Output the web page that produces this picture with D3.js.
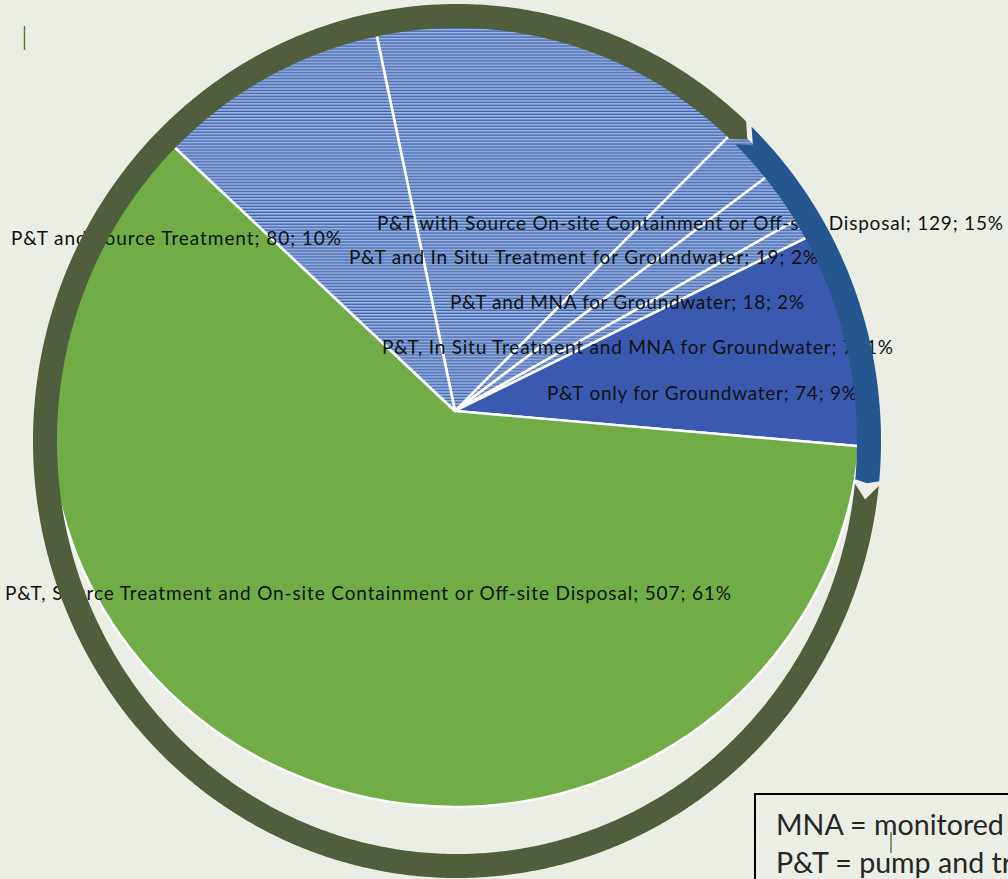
<!DOCTYPE html>
<html>
<head>
<meta charset="utf-8">
<script src="https://cdn.jsdelivr.net/npm/d3@7"></script>
<style>
  html, body { margin: 0; padding: 0; background: #ebeee5; }
  svg { display: block; }
</style>
</head>
<body>
<svg id="chart" width="1008" height="879"></svg>
<script>
// Remedy combinations at P&T sites (count of sites)
const categories = [
  "P&T with Source On-site Containment or Off-site Disposal",
  "P&T and In Situ Treatment for Groundwater",
  "P&T and MNA for Groundwater",
  "P&T, In Situ Treatment and MNA for Groundwater",
  "P&T only for Groundwater",
  "P&T, Source Treatment and On-site Containment or Off-site Disposal",
  "P&T and Source Treatment"
];
const values = [129, 19, 18, 7, 74, 507, 80];

// Slice fills, in category order
const sliceFills = ["url(#hatch)", "url(#hatch)", "url(#hatch)", "url(#hatch)", "#3a5ab0", "#70ad47", "url(#hatch)"];

// Label layout: left x, middle y, rendered width
const labelLayout = [
  [377, 223, 626],
  [349, 257, 469],
  [450, 302, 354],
  [382, 347, 511],
  [547, 393, 310],
  [5, 593, 726],
  [11, 238, 330]
];

const legendLines = ["MNA = monitored natural attenuation", "P&T = pump and treat"];

const svg = d3.select("#chart");
const defs = svg.append("defs");

// Horizontal-line pattern fill
const pat = defs.append("pattern")
  .attr("id", "hatch")
  .attr("patternUnits", "userSpaceOnUse")
  .attr("width", 8).attr("height", 3);
pat.append("rect").attr("width", 8).attr("height", 3).attr("fill", "#9fb5de");
pat.append("rect").attr("y", 0).attr("width", 8).attr("height", 1).attr("fill", "#3f68b3");
pat.append("rect").attr("y", 2).attr("width", 8).attr("height", 1).attr("fill", "#7896cd");

svg.append("rect").attr("width", 1008).attr("height", 879).attr("fill", "#ebeee5");

// Pie
const deg = Math.PI / 180;
const startA = -11.5 * deg;
const pie = d3.pie().sort(null).value(d => d).startAngle(startA).endAngle(startA + 2 * Math.PI);
const arcs = pie(values);
const arc = d3.arc().innerRadius(0).outerRadius(400);

const pieG = svg.append("g").attr("transform", "translate(455,411) scale(1.015,0.99)");
pieG.selectAll("path.slice")
  .data(arcs)
  .join("path")
  .attr("class", "slice")
  .attr("d", arc)
  .attr("fill", (d, i) => sliceFills[i])
  .attr("stroke", "#ffffff")
  .attr("stroke-width", 2.5)
  .attr("stroke-linejoin", "round");

// Data labels: "category; value; percent"
const total = d3.sum(values);
const labelText = (i) => `${categories[i]}; ${values[i]}; ${Math.round(values[i] / total * 100)}%`;

svg.append("g").selectAll("text")
  .data(values.map((v, i) => i))
  .join("text")
  .attr("x", i => labelLayout[i][0])
  .attr("y", i => labelLayout[i][1])
  .attr("dy", "0.36em")
  .attr("textLength", i => labelLayout[i][2])
  .attr("lengthAdjust", "spacing")
  .attr("font-family", "Lato, 'Open Sans', sans-serif")
  .attr("font-size", 19)
  .attr("fill", "#111111")
  .text(i => labelText(i));

// Circular arrow band around the pie
const ring = { cx: 457, cy: 441, rxO: 424, ryO: 437, rxI: 400, ryI: 413 };
function ellPt(a, t) {
  const rx = ring.rxI + (ring.rxO - ring.rxI) * t;
  const ry = ring.ryI + (ring.ryO - ring.ryI) * t;
  return [ring.cx + rx * Math.sin(a * deg), ring.cy - ry * Math.cos(a * deg)];
}
function bandPath(a0, a1, tailDepth, headDepth) {
  const pts = [];
  const n = Math.max(2, Math.ceil((a1 - a0) / 0.5));
  for (let k = 0; k <= n; k++) pts.push(ellPt(a0 + (a1 - a0) * k / n, 1));
  pts.push(ellPt(a1 + headDepth, 0.5));
  for (let k = n; k >= 0; k--) pts.push(ellPt(a0 + (a1 - a0) * k / n, 0));
  pts.push(ellPt(a0 + tailDepth, 0.5));
  return d3.line()(pts) + "Z";
}

svg.append("path")
  .attr("d", bandPath(95.9, 403.0, 2.0, 1.8))
  .attr("fill", "#505e3d");
svg.append("path")
  .attr("d", bandPath(44.0, 95.3, 1.9, 0.4))
  .attr("fill", "#24568f");

// Text-cursor marks
svg.append("line").attr("x1", 24.5).attr("x2", 24.5).attr("y1", 26).attr("y2", 50)
  .attr("stroke", "#56733a").attr("stroke-width", 1.4);

// Abbreviation note box
const legendG = svg.append("g");
legendG.append("rect")
  .attr("x", 755).attr("y", 794).attr("width", 320).attr("height", 140)
  .attr("fill", "none").attr("stroke", "#000000").attr("stroke-width", 2);
const legText = legendG.selectAll("text")
  .data(legendLines)
  .join("text")
  .attr("x", 776)
  .attr("y", (d, i) => 835 + i * 38)
  .attr("font-family", "Lato, 'Open Sans', sans-serif")
  .attr("font-size", 28)
  .attr("fill", "#262626")
  .text(d => d);
// scale the note text so "MNA = monitored" spans its measured width
const firstNode = legText.node();
const w = firstNode.getSubStringLength(0, 15);
if (w > 0) legText.attr("font-size", 28 * 228 / w);

svg.append("line").attr("x1", 891).attr("x2", 891).attr("y1", 832).attr("y2", 853)
  .attr("stroke", "#56733a").attr("stroke-width", 1.4);
</script>
</body>
</html>
